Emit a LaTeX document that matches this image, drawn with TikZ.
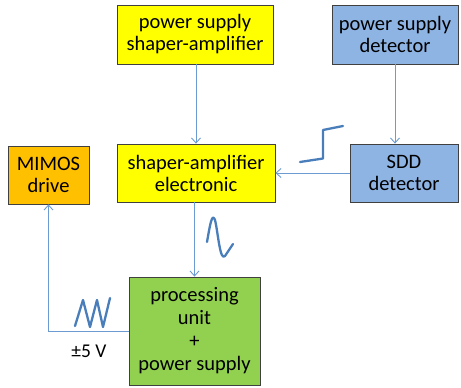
\documentclass[tikz,border=0pt]{standalone}
\usepackage{fontspec}
\setmainfont{Carlito}
\usetikzlibrary{arrows.meta}
\definecolor{boxyellow}{HTML}{FFFF00}
\definecolor{boxblue}{HTML}{8EB4E3}
\definecolor{boxorange}{HTML}{FFC000}
\definecolor{boxgreen}{HTML}{92D050}
\definecolor{linkblue}{HTML}{6C9BD2}
\definecolor{wavblue}{HTML}{4A7EBB}
\tikzset{
	blockbox/.style={draw=black!75,line width=0.8pt,align=center,inner sep=2pt},
	link/.style={draw=linkblue,line width=0.9pt,-{Straight Barb[length=5pt,width=9pt]}},
	wave/.style={draw=wavblue,line width=2.3pt,line join=round,line cap=round}
}
\begin{document}
\begin{tikzpicture}[x=1pt,y=-1pt,font=\fontsize{20.5}{22}\selectfont]
	\useasboundingbox (0,0) rectangle (461,388);
	% boxes
	\node[blockbox,fill=boxyellow,minimum width=156pt,minimum height=59pt] (pssa) at (195,34.5) {power supply\\shaper-amplifier};
	\node[blockbox,fill=boxblue,minimum width=126pt,minimum height=59pt] (psdet) at (395,34.5) {power supply\\detector};
	\node[blockbox,fill=boxorange,minimum width=81pt,minimum height=58pt] (mimos) at (48.5,175) {MIMOS\\drive};
	\node[blockbox,fill=boxyellow,minimum width=158pt,minimum height=58pt] (sae) at (196,173) {shaper-amplifier\\electronic};
	\node[blockbox,fill=boxblue,minimum width=108pt,minimum height=58pt] (sdd) at (404,173) {SDD\\detector};
	\node[blockbox,fill=boxgreen,minimum width=131pt,minimum height=108pt,font=\fontsize{20.5}{23}\selectfont] (pu) at (194.5,331) {processing\\unit\\+\\power supply};
	% connectors
	\draw[link] (pssa.south -| sae.north) -- (sae.north);
	\draw[link] (psdet.south) -- (psdet.south |- sdd.north);
	\draw[link] (sdd.west) -- (sae.east);
	\draw[link] (sae.south -| pu.north) -- (pu.north);
	\draw[link] (pu.west) -- (mimos.south |- pu.west) -- (mimos.south);
	\node[font=\fontsize{19.5}{21}\selectfont] (volt) at (89,351) {±5 V};
	% signal shapes
	\draw[wave] (300,162) -- (323,158.5) -- (323,130) -- (343,126);
	\draw[wave] (207,242) .. controls (210,225) and (212,212) .. (215,220)
		.. controls (218,232) and (220,262) .. (225,256) -- (233,244);
	\draw[wave] (75,326) -- (83,300) -- (90,327) -- (97,300) -- (103,327) -- (110,298);
\end{tikzpicture}
\end{document}
